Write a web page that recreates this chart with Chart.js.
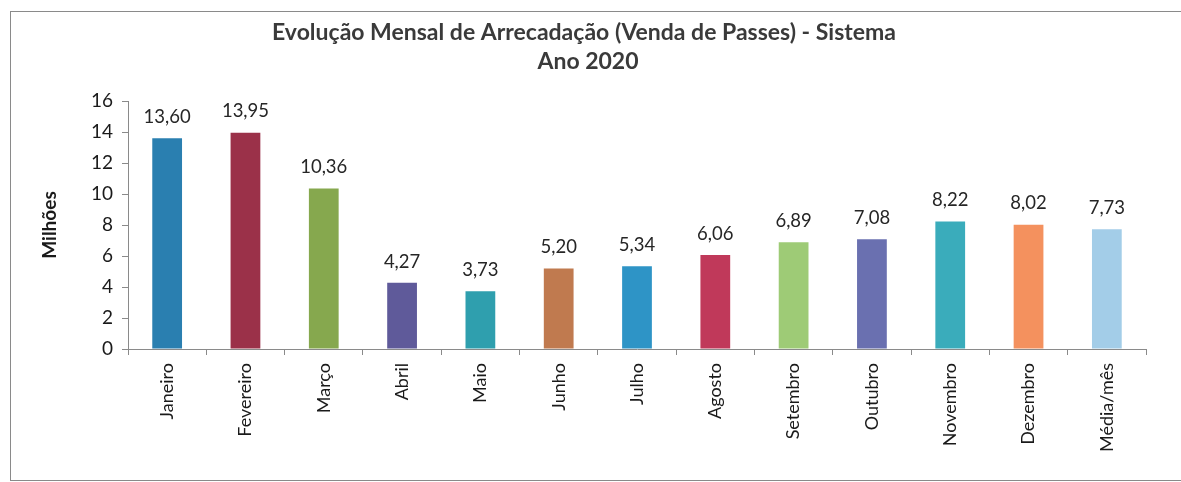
<!DOCTYPE html>
<html>
<head>
<meta charset="utf-8">
<script src="https://cdn.jsdelivr.net/npm/chart.js@4.4.0/dist/chart.umd.min.js"></script>
<style>
  html, body { margin: 0; padding: 0; background: #ffffff; overflow: hidden; }
  #wrap { position: relative; width: 1181px; height: 482px; overflow: hidden; }
  #frame { position: absolute; left: 10px; top: 11px; width: 1200px; height: 470px; border: 1px solid #8a8a8a; box-sizing: border-box; pointer-events: none; }
</style>
</head>
<body>
<div id="wrap">
  <canvas id="chart" width="1181" height="482"></canvas>
  <div id="frame"></div>
</div>
<script>
// Data
const categories = ['Janeiro', 'Fevereiro', 'Março', 'Abril', 'Maio', 'Junho', 'Julho', 'Agosto', 'Setembro', 'Outubro', 'Novembro', 'Dezembro', 'Média/mês'];
const values = [13.60, 13.95, 10.36, 4.27, 3.73, 5.20, 5.34, 6.06, 6.89, 7.08, 8.22, 8.02, 7.73];
const valueLabels = ['13,60', '13,95', '10,36', '4,27', '3,73', '5,20', '5,34', '6,06', '6,89', '7,08', '8,22', '8,02', '7,73'];
const barColors = ['#2a7fb0', '#9b3149', '#86a84e', '#5f5a9a', '#2f9fae', '#c07a4f', '#2e94c6', '#c0395a', '#9ecb76', '#6a70b0', '#3aacbb', '#f4915e', '#a3cde8'];
const titleLines = ['Evolução Mensal de Arrecadação (Venda de Passes) - Sistema', 'Ano 2020'];
const yTitle = 'Milhões';

const FONT = "Lato, 'Open Sans', sans-serif";

// Title drawn centered over the chart
const titlePlugin = {
    id: 'topTitle',
    afterDraw(chart) {
        const ctx = chart.ctx;
        ctx.save();
        ctx.font = 'bold 23px ' + FONT;
        ctx.fillStyle = '#3a3a3a';
        ctx.textAlign = 'center';
        ctx.textBaseline = 'middle';
        ctx.fillText(titleLines[0], 584, 33);
        ctx.fillText(titleLines[1], 588, 62);
        ctx.restore();
    }
};

// Value labels above each bar
const valueLabelPlugin = {
    id: 'valueLabels',
    afterDatasetsDraw(chart) {
        const ctx = chart.ctx;
        const meta = chart.getDatasetMeta(0);
        ctx.save();
        ctx.font = '18.5px ' + FONT;
        ctx.fillStyle = '#262626';
        ctx.textAlign = 'center';
        ctx.textBaseline = 'bottom';
        meta.data.forEach((bar, i) => {
            ctx.fillText(valueLabels[i], bar.x, bar.y - 12);
        });
        ctx.restore();
    }
};

new Chart(document.getElementById('chart'), {
    type: 'bar',
    data: {
        labels: categories,
        datasets: [{
            data: values,
            backgroundColor: barColors,
            borderWidth: 0,
            barPercentage: 0.38,
            categoryPercentage: 1
        }]
    },
    options: {
        responsive: false,
        animation: false,
        layout: { padding: { left: 0, top: 101, right: 35, bottom: 0 } },
        plugins: {
            legend: { display: false },
            tooltip: { enabled: false }
        },
        scales: {
            x: {
                afterFit(scale) { scale.height = 133; },
                grid: {
                    offset: true,
                    drawOnChartArea: false,
                    drawTicks: true,
                    tickLength: 6,
                    color: '#8a8a8a'
                },
                border: { color: '#8a8a8a', width: 1 },
                ticks: {
                    color: '#1a1a1a',
                    font: { family: FONT, size: 18 },
                    maxRotation: 90,
                    minRotation: 90,
                    padding: 8,
                    autoSkip: false
                }
            },
            y: {
                min: 0,
                max: 16,
                afterFit(scale) { scale.width = 128; },
                ticks: {
                    stepSize: 2,
                    color: '#1a1a1a',
                    font: { family: FONT, size: 19 },
                    padding: 9
                },
                grid: {
                    drawOnChartArea: false,
                    drawTicks: true,
                    tickLength: 6,
                    color: '#8a8a8a'
                },
                border: { color: '#8a8a8a', width: 1 },
                title: {
                    display: true,
                    text: yTitle,
                    color: '#1a1a1a',
                    font: { family: FONT, size: 19, weight: 'bold' },
                    padding: { top: 38, bottom: 0 }
                }
            }
        }
    },
    plugins: [titlePlugin, valueLabelPlugin]
});
</script>
</body>
</html>
